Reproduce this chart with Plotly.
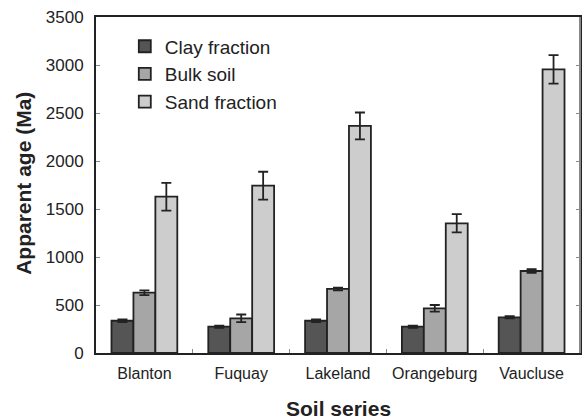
import plotly.graph_objects as go

categories = ["Blanton", "Fuquay", "Lakeland", "Orangeburg", "Vaucluse"]
series_names = ["Clay fraction", "Bulk soil", "Sand fraction"]
clay = [336, 274, 336, 274, 372]
clay_err = [15, 12, 15, 12, 12]
bulk = [628, 361, 667, 465, 854]
bulk_err = [25, 40, 15, 35, 20]
sand = [1628, 1743, 2365, 1351, 2955]
sand_err = [145, 145, 140, 95, 148]
y_ticks = [0, 500, 1000, 1500, 2000, 2500, 3000, 3500]

colors = ["#555555", "#a6a6a6", "#cdcdcd"]
values = [clay, bulk, sand]
errors = [clay_err, bulk_err, sand_err]

fig = go.Figure()
for name, v, e, c in zip(series_names, values, errors, colors):
    fig.add_trace(go.Bar(
        x=categories, y=v, name=name,
        marker=dict(color=c, line=dict(color="#222222", width=1.8)),
        error_y=dict(type="data", array=e, visible=True, color="#222222",
                     thickness=1.8, width=5),
    ))

font_family = "Liberation Sans, Arial, sans-serif"
fig.update_layout(
    width=584, height=420,
    margin=dict(l=96, r=4, t=17, b=67),
    paper_bgcolor="white", plot_bgcolor="white",
    barmode="group", bargap=0.32, bargroupgap=0,
    font=dict(family=font_family, color="#222222", size=17),
    showlegend=True,
    legend=dict(x=0.0595, y=0.969, xanchor="left", yanchor="top",
                bgcolor="rgba(0,0,0,0)", font=dict(size=19, color="#222222"),
                tracegroupgap=0),
    xaxis=dict(
        automargin=False, tickangle=0, ticklabelstandoff=5,
        showline=True, linecolor="#222222", linewidth=2, mirror=True,
        ticks="inside", tickson="boundaries", ticklen=4, tickcolor="#888888",
        tickfont=dict(size=16), showgrid=False,
    ),
    yaxis=dict(
        automargin=False, ticklabelstandoff=7,
        range=[0, 3500], tickvals=y_ticks,
        showline=True, linecolor="#222222", linewidth=2, mirror="ticks",
        ticks="inside", ticklen=4, tickcolor="#888888",
        tickfont=dict(size=17), showgrid=False, zeroline=False,
    ),
    annotations=[
        dict(text="<b>Soil series</b>", xref="paper", yref="paper",
             x=0.5, y=-0.164, xanchor="center", yanchor="middle",
             showarrow=False, font=dict(size=21, color="#222222")),
        dict(text="<b>Apparent age (Ma)</b>", xref="paper", yref="paper",
             x=-0.149, y=0.506, xanchor="center", yanchor="middle",
             textangle=-90, showarrow=False, font=dict(size=21, color="#222222")),
    ],
)
fig.add_shape(type="line", xref="paper", yref="paper", x0=1, x1=1, y0=0, y1=1,
              line=dict(color="#888888", width=2), layer="above")

fig.write_html("out.html", config={"displayModeBar": False},
               post_script="document.body.style.margin='0';document.body.style.overflow='hidden';")
